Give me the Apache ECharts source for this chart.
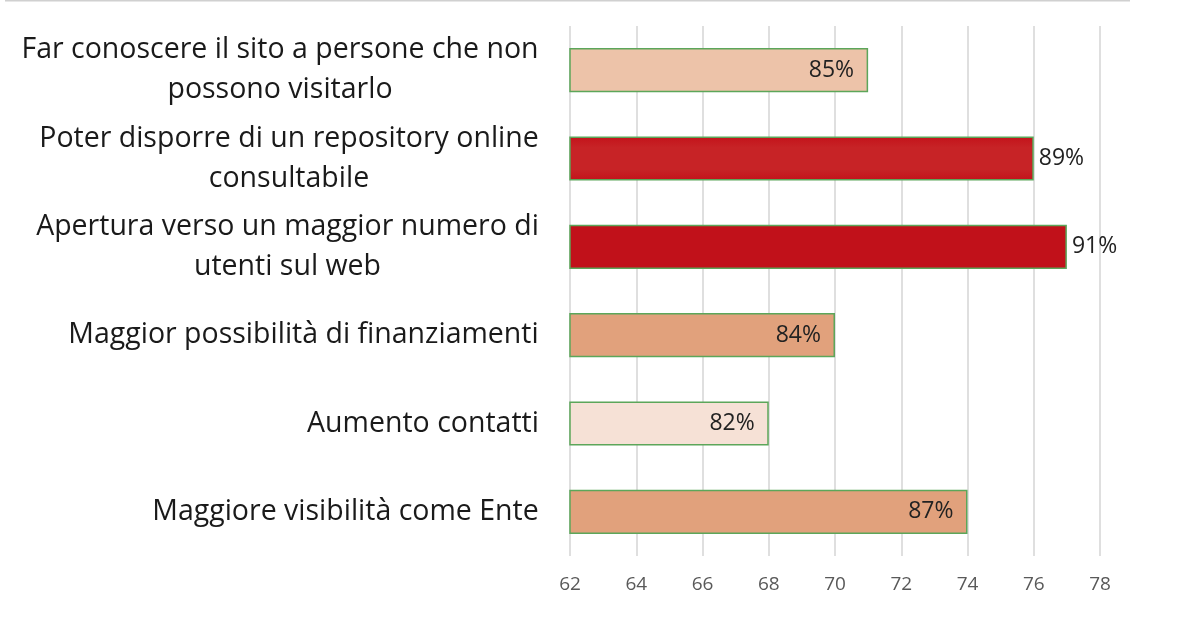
<!DOCTYPE html>
<html><head><meta charset="utf-8">
<script src="https://cdn.jsdelivr.net/npm/echarts@6/dist/echarts.min.js"></script>
<style>html,body{margin:0;padding:0;background:#fff}#c{width:1179px;height:625px}</style>
</head><body><div id="c"></div>
<script>
const categories = [
  "Far conoscere il sito a persone che non\npossono visitarlo",
  "Poter disporre di un repository online\nconsultabile",
  "Apertura verso un maggior numero di\nutenti sul web",
  "Maggior possibilità di finanziamenti",
  "Aumento contatti",
  "Maggiore visibilità come Ente"
];
const values = [71, 76, 77, 70, 68, 74];
const pctLabels = ["85%", "89%", "91%", "84%", "82%", "87%"];
const xTicks = [62, 64, 66, 68, 70, 72, 74, 76, 78];

const catFont = 28.5;
const catFamily = 'Open Sans';
const fills = [
  '#EDC3A9',
  {type:'linear', x:0, y:0, x2:0, y2:1, colorStops:[{offset:0,color:'#C3121A'},{offset:0.25,color:'#C72326'},{offset:0.75,color:'#C72326'},{offset:1,color:'#C3121A'}]},
  '#C1111A',
  '#E1A17C',
  '#F6E1D6',
  '#E1A17C'
];
const outside = [false, true, true, false, false, false];

// measure longest line of each label so multi-line labels are centred within their block
const cv = document.createElement('canvas').getContext('2d');
cv.font = catFont + 'px "' + catFamily + '"';
const rich = {};
categories.forEach((c, i) => {
  const w = Math.max(...c.split('\n').map(l => cv.measureText(l).width));
  rich['r' + i] = {width: Math.ceil(w) + 2, align: 'center', fontSize: catFont, fontFamily: catFamily, color: '#1a1a1a', lineHeight: 40};
});

const chart = echarts.init(document.getElementById('c'));
chart.setOption({
  animation:false,
  graphic:[{type:'rect', shape:{x:5,y:0,width:1125,height:1.5}, style:{fill:'#d0d0d0'}}],
  grid:{left:570, right:79, top:26, bottom:69},
  xAxis:{type:'value', min:xTicks[0], max:xTicks[xTicks.length-1], interval:2,
    axisLine:{show:false}, axisTick:{show:false},
    splitLine:{lineStyle:{color:'#d4d4d4', width:1.5}},
    axisLabel:{color:'#595959', fontSize:19, fontFamily:'Open Sans', margin:19}},
  yAxis:{type:'category', inverse:true, data:categories,
    axisLine:{show:false}, axisTick:{show:false},
    axisLabel:{margin:30, align:'right', rich: rich,
      formatter:(v, idx) => v.split('\n').map(l => '{r' + idx + '|' + l + '}').join('\n')}},
  series:[{type:'bar', barWidth:'50%',
    data: values.map((v,i)=>({value:v, itemStyle:{color:fills[i], borderColor:'#5CA65A', borderWidth:1.5},
      label:{show:true, formatter:pctLabels[i], position: outside[i]?'right':'insideRight', distance: outside[i]?5:14,
        color:'#222', fontSize:23, fontFamily:'Open Sans'}})),
  }]
});
</script></body></html>
